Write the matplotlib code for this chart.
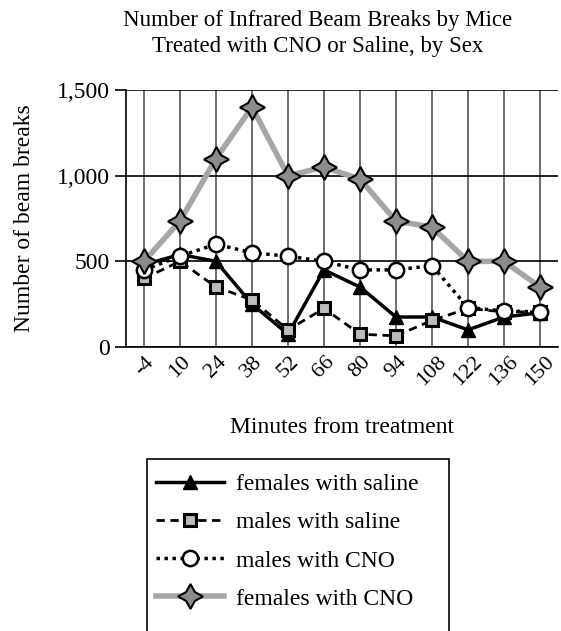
import matplotlib
matplotlib.use("Agg")
import matplotlib.pyplot as plt
from matplotlib.ticker import FuncFormatter
from matplotlib.patches import Rectangle

plt.rcParams['font.family'] = ['Liberation Serif', 'DejaVu Serif']

# minutter fra behandling (kategorier)
minutter = ["-4", "10", "24", "38", "52", "66", "80", "94", "108", "122", "136", "150"]

# verdier lest av bildet
hunner_saltvann = [480, 540, 500, 250, 75, 450, 350, 175, 175, 100, 175, 200]
hanner_saltvann = [400, 500, 350, 275, 100, 225, 75, 65, 155, 225, 205, 205]
hanner_cno = [450, 530, 600, 550, 530, 500, 450, 450, 475, 230, 210, 205]
hunner_cno = [500, 735, 1100, 1400, 1000, 1050, 980, 735, 700, 500, 500, 350]

yticks = [0, 500, 1000, 1500]

fig = plt.figure(figsize=(5.61, 6.31), dpi=100)
ax = fig.add_axes([126/561, 1 - 347/631, (558 - 126)/561, (347 - 90)/631])

x = list(range(len(minutter)))

ax.plot(x, hunner_saltvann, color='black', linestyle='-', linewidth=2.5,
        marker='^', markersize=10, markerfacecolor='black', markeredgecolor='black',
        label='females with saline', zorder=3)
ax.plot(x, hanner_saltvann, color='black', linestyle=(0, (3, 2)), linewidth=2,
        marker='s', markersize=9, markerfacecolor='#bbbbbb', markeredgecolor='black',
        markeredgewidth=2.2, label='males with saline', zorder=4)
ax.plot(x, hanner_cno, color='black', linestyle=(0, (1, 1.3)), linewidth=2.5,
        marker='o', markersize=11, markerfacecolor='white', markeredgecolor='black',
        markeredgewidth=1.8, label='males with CNO', zorder=5)
ax.plot(x, hunner_cno, color='#a6a6a6', linestyle='-', linewidth=4,
        marker=(4, 1, 0), markersize=18, markerfacecolor='#8c8c8c', markeredgecolor='black',
        markeredgewidth=1.5, label='females with CNO', zorder=6)

ax.set_xlim(-0.5, len(minutter) - 0.5)
ax.set_ylim(0, 1500)
ax.set_xticks(x)
ax.set_xticklabels(minutter, rotation=45, ha='center', fontsize=16)
ax.set_yticks(yticks)
ax.yaxis.set_major_formatter(FuncFormatter(lambda v, p: f"{int(v):,}"))
ax.tick_params(axis='y', labelsize=17, length=8, width=1.2, direction='out')
ax.tick_params(axis='x', length=0, pad=4)

ax.grid(True, axis='x', color='#555555', linewidth=1.2)
ax.grid(True, axis='y', color='black', linewidth=1.2)
ax.set_axisbelow(True)
for side in ['top', 'right']:
    ax.spines[side].set_visible(False)
ax.spines['left'].set_linewidth(1.2)
ax.spines['bottom'].set_linewidth(1.2)

ax.set_ylabel('Number of beam breaks', fontsize=17, labelpad=16)
ax.set_xlabel('Minutes from treatment', fontsize=17, labelpad=20)

fig.text(318/561, 1 - 10/631, 'Number of Infrared Beam Breaks by Mice\nTreated with CNO or Saline, by Sex',
         ha='center', va='top', fontsize=16.5, linespacing=1.3)

# legende uten ramme, rammen tegnes for seg (går ut av bildet nederst)
leg = fig.legend(loc='upper left', bbox_to_anchor=(137/561, 1 - 455/631), fontsize=17,
                 frameon=False, handlelength=2.9, handletextpad=0.5,
                 labelspacing=0.7, borderpad=0.3)
fig.patches.append(Rectangle((147/561, -0.05), (449 - 147)/561, 1 - 459/631 + 0.05,
                             transform=fig.transFigure, fill=False,
                             edgecolor='black', linewidth=1.2))

fig.savefig('out.png', dpi=100)
